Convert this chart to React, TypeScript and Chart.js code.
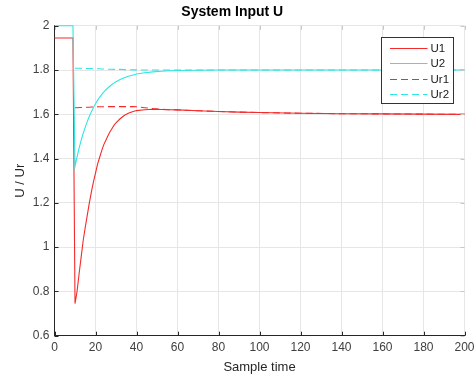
import React, { useEffect, useRef } from "react";
import { Chart, registerables } from "chart.js";

Chart.register(...registerables);

const xs = [0, 9, 10, 11, 12, 13, 14, 15, 16, 17, 18, 19, 20, 21, 22, 23, 24, 25, 26, 27, 28, 29, 30, 32, 34, 36, 38, 40, 44, 48, 52, 56, 60, 70, 80, 90, 100, 120, 140, 160, 180, 200];

const u1 = [1.945, 1.945, 0.745, 0.8, 0.88, 0.955, 1.03, 1.09, 1.145, 1.2, 1.25, 1.295, 1.335, 1.375, 1.405, 1.435, 1.462, 1.482, 1.502, 1.52, 1.535, 1.55, 1.562, 1.58, 1.595, 1.605, 1.612, 1.617, 1.621, 1.623, 1.622, 1.621, 1.62, 1.616, 1.613, 1.61, 1.608, 1.605, 1.603, 1.602, 1.601, 1.6];

const u2 = [2.0, 2.0, 1.365, 1.408, 1.447, 1.482, 1.514, 1.542, 1.568, 1.591, 1.612, 1.631, 1.648, 1.663, 1.677, 1.689, 1.7, 1.71, 1.719, 1.727, 1.735, 1.741, 1.747, 1.757, 1.765, 1.772, 1.777, 1.782, 1.788, 1.792, 1.795, 1.797, 1.798, 1.799, 1.8, 1.8, 1.8, 1.8, 1.8, 1.8, 1.8, 1.8];

const ur1 = [null, null, 1.63, 1.63, 1.631, 1.631, 1.631, 1.632, 1.632, 1.632, 1.633, 1.633, 1.633, 1.634, 1.634, 1.634, 1.634, 1.635, 1.635, 1.635, 1.635, 1.635, 1.635, 1.635, 1.635, 1.635, 1.635, 1.634, 1.63, 1.626, 1.623, 1.621, 1.62, 1.616, 1.613, 1.61, 1.608, 1.605, 1.603, 1.602, 1.601, 1.6];

const ur2 = [null, null, 1.808, 1.808, 1.808, 1.808, 1.808, 1.807, 1.807, 1.807, 1.807, 1.806, 1.806, 1.806, 1.806, 1.805, 1.805, 1.805, 1.804, 1.804, 1.804, 1.803, 1.803, 1.803, 1.802, 1.802, 1.801, 1.801, 1.8, 1.8, 1.8, 1.8, 1.8, 1.8, 1.8, 1.8, 1.8, 1.8, 1.8, 1.8, 1.8, 1.8];

const xTicks = [0, 20, 40, 60, 80, 100, 120, 140, 160, 180, 200];
const yTicks = [0.6, 0.8, 1, 1.2, 1.4, 1.6, 1.8, 2];

const seriesNames = ["U1", "U2", "Ur1", "Ur2"];
const seriesColors = ["#f52a2a", "#2ee6e6", "#f52a2a", "#2ee6e6"];
const seriesDashed = [false, false, true, true];

const FONT = "'Liberation Sans', Arial, Helvetica, sans-serif";
const DASH = [7, 4];

const tickMarks = {
  id: "tickMarks",
  afterDraw(chart: any) {
    const { ctx, chartArea } = chart;
    const xs_ = chart.scales.x;
    const ys_ = chart.scales.y;
    ctx.save();
    ctx.lineWidth = 1;
    xs_.ticks.forEach((t: any) => {
      const px = Math.round(xs_.getPixelForValue(t.value)) + 0.5;
      ctx.strokeStyle = "#262626";
      ctx.beginPath();
      ctx.moveTo(px, chartArea.bottom);
      ctx.lineTo(px, chartArea.bottom - 4);
      ctx.stroke();
      ctx.strokeStyle = "#c8c8c8";
      ctx.beginPath();
      ctx.moveTo(px, chartArea.top);
      ctx.lineTo(px, chartArea.top + 4);
      ctx.stroke();
    });
    ys_.ticks.forEach((t: any) => {
      const py = Math.round(ys_.getPixelForValue(t.value)) + 0.5;
      ctx.strokeStyle = "#262626";
      ctx.beginPath();
      ctx.moveTo(chartArea.left, py);
      ctx.lineTo(chartArea.left + 4, py);
      ctx.stroke();
      ctx.strokeStyle = "#c8c8c8";
      ctx.beginPath();
      ctx.moveTo(chartArea.right, py);
      ctx.lineTo(chartArea.right - 4, py);
      ctx.stroke();
    });
    ctx.restore();
  },
};

const boxLegend = {
  id: "boxLegend",
  afterDraw(chart: any) {
    const { ctx, chartArea } = chart;
    const w = 72;
    const h = 66;
    const x0 = Math.round(chartArea.right - 11.5 - w) + 0.5;
    const y0 = Math.round(chartArea.top + 11) + 0.5;
    ctx.save();
    ctx.fillStyle = "#ffffff";
    ctx.fillRect(x0, y0, w, h);
    ctx.strokeStyle = "#333333";
    ctx.lineWidth = 1;
    ctx.strokeRect(x0, y0, w, h);
    ctx.font = `11.5px ${FONT}`;
    ctx.textBaseline = "middle";
    ctx.textAlign = "left";
    seriesNames.forEach((name, i) => {
      const y = Math.round(y0 + 10 + i * 15.5) + 0.5;
      ctx.strokeStyle = seriesColors[i];
      ctx.setLineDash(seriesDashed[i] ? DASH : []);
      ctx.beginPath();
      ctx.moveTo(x0 + 8.5, y);
      ctx.lineTo(x0 + 46, y);
      ctx.stroke();
      ctx.setLineDash([]);
      ctx.fillStyle = "#1a1a1a";
      ctx.fillText(name, x0 + 49, y + 0.5);
    });
    ctx.restore();
  },
};

const seriesData = [u1, u2, ur1, ur2];

export default function App() {
  const ref = useRef<HTMLCanvasElement | null>(null);
  useEffect(() => {
    if (!ref.current) return;
    const datasets = seriesData.map((arr, i) => ({
      label: seriesNames[i],
      data: xs.map((x, j) => ({ x, y: arr[j] })),
      borderColor: seriesColors[i],
      backgroundColor: seriesColors[i],
      borderWidth: 1.1,
      borderDash: seriesDashed[i] ? DASH : [],
      pointRadius: 0,
      tension: 0,
      fill: false,
      spanGaps: false,
      clip: 3,
      order: 3 - i,
    }));
    const tickFont = { family: FONT, size: 12 };
    const chart = new Chart(ref.current, {
      type: "line",
      data: { datasets },
      options: {
        animation: false,
        responsive: false,
        devicePixelRatio: 1,
        layout: { padding: { left: 0, right: 10.5, top: 0, bottom: 0 } },
        plugins: {
          legend: { display: false },
          tooltip: { enabled: false },
          title: {
            display: true,
            text: "System Input U",
            color: "#000000",
            font: { family: FONT, size: 14, weight: "bold" },
            padding: { top: 4, bottom: 5 },
          },
        },
        scales: {
          x: {
            type: "linear",
            min: 0,
            max: 200,
            afterBuildTicks: (s: any) => {
              s.ticks = xTicks.map((v) => ({ value: v }));
            },
            afterFit: (s: any) => {
              s.height = 41.3;
              s.paddingLeft = 0;
              s.paddingRight = 0;
            },
            grid: { color: "#e6e6e6", drawTicks: false },
            border: { color: "#262626", width: 1 },
            ticks: {
              padding: 5,
              font: tickFont,
              color: "#404040",
              maxRotation: 0,
              autoSkip: false,
              callback: (v: any) => String(v),
            },
            title: {
              display: true,
              text: "Sample time",
              color: "#262626",
              font: { family: FONT, size: 13 },
              padding: { top: 2, bottom: 2.2 },
            },
          },
          y: {
            type: "linear",
            min: 0.6,
            max: 2,
            afterBuildTicks: (s: any) => {
              s.ticks = yTicks.map((v) => ({ value: v }));
            },
            afterFit: (s: any) => {
              s.width = 54.5;
              s.paddingTop = 0;
              s.paddingBottom = 0;
            },
            grid: { color: "#e6e6e6", drawTicks: false },
            border: { color: "#262626", width: 1 },
            ticks: {
              padding: 5,
              font: tickFont,
              color: "#404040",
              autoSkip: false,
              callback: (v: any) => String(v),
            },
            title: {
              display: true,
              text: "U / Ur",
              color: "#262626",
              font: { family: FONT, size: 13 },
              padding: { top: 13, bottom: 0 },
            },
          },
        },
      },
      plugins: [tickMarks, boxLegend],
    } as any);
    return () => chart.destroy();
  }, []);
  return (
    <div style={{ position: "fixed", left: 0, top: 0, width: 475, height: 377, background: "#ffffff" }}>
      <canvas ref={ref} width={475} height={377} />
    </div>
  );
}
